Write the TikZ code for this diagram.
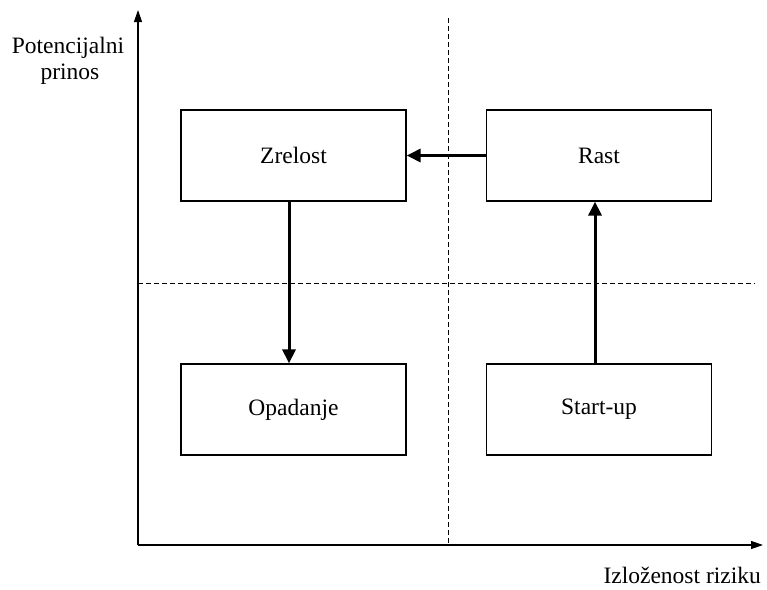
\documentclass[tikz,border=0pt]{standalone}
\usepackage{fontspec}
\setmainfont{Liberation Serif}
\usetikzlibrary{arrows.meta}
\begin{document}
\begin{tikzpicture}[x=1pt,y=-1pt,
  box/.style={draw,line width=1.2pt,minimum width=225pt,minimum height=91pt,inner sep=0pt,font=\fontsize{23.5}{26}\selectfont},
  flow/.style={line width=3pt,-{Triangle[length=14pt,width=13pt]}},
  axis/.style={line width=1.2pt,-{Triangle[length=12pt,width=8pt]}},
  grid/.style={dashed,line width=0.9pt,dash pattern=on 5pt off 3pt},
  lbl/.style={font=\fontsize{23.5}{26}\selectfont,inner sep=0pt}]
\useasboundingbox (0,0) rectangle (767,589);
\coordinate (o) at (138,545);
\coordinate (ytop) at (138,10);
\coordinate (xend) at (763,545);
\coordinate (vt) at (448,18);
\coordinate (vb) at (448,545);
\coordinate (hl) at (138,283);
\coordinate (hr) at (755,283);
\draw[grid] (vt) -- (vb);
\draw[grid] (hl) -- (hr);
\draw[axis] (o) -- (ytop);
\draw[axis] (o) -- (xend);
\node[box] (zr) at (293.5,155.5) {Zrelost};
\node[box] (ra) at (599,155.5) {Rast};
\node[box] (op) at (293.5,409.5) {Opadanje};
\node[box] (st) at (599,409.5) {Start-up};
\draw[flow] (ra.west) -- (zr.east);
\draw[flow] (zr.south -| 289,0) -- (op.north -| 289,0);
\draw[flow] (st.north -| 595,0) -- (ra.south -| 595,0);
\node[lbl,anchor=base] (yl1) at (68,53) {Potencijalni};
\node[lbl,anchor=base] (yl2) at (70,79) {prinos};
\node[lbl,anchor=base east] (xl) at (761,583) {Izloženost riziku};
\end{tikzpicture}
\end{document}
